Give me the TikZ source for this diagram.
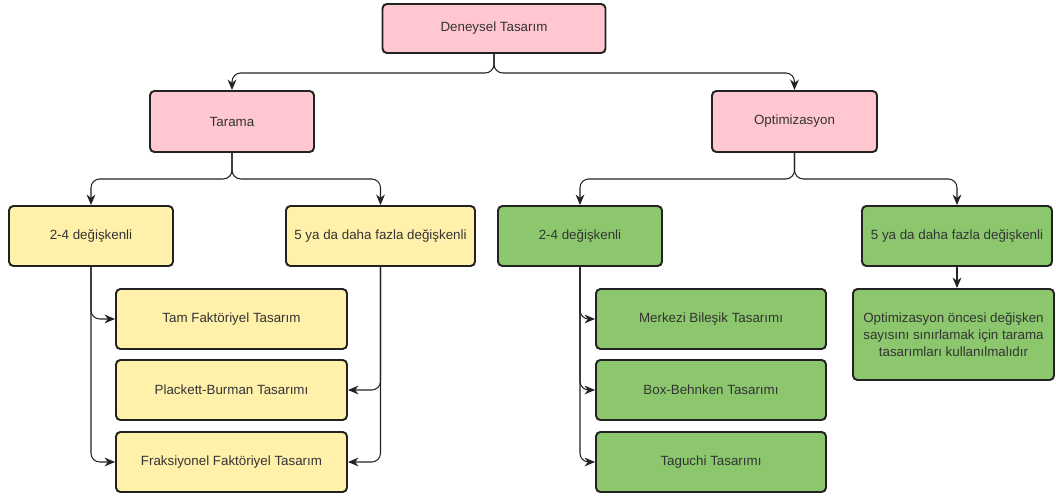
\documentclass[tikz,border=0pt]{standalone}
\usepackage{fontspec}
\setmainfont{Liberation Sans}
\usetikzlibrary{arrows.meta,calc}

\definecolor{pinkfill}{RGB}{255,199,208}
\definecolor{yellowfill}{RGB}{255,240,170}
\definecolor{greenfill}{RGB}{140,199,110}
\definecolor{edgegray}{RGB}{34,34,34}

\begin{document}
\begin{tikzpicture}[
        box/.style={draw=edgegray,line width=1.1pt,rounded corners=2.5pt,align=center,
            font=\fontsize{7.6}{9.6}\selectfont,text=black!80,inner sep=2pt},
        pinkbox/.style={box,fill=pinkfill},
        yellowbox/.style={box,fill=yellowfill},
        greenbox/.style={box,fill=greenfill},
        link/.style={draw=edgegray,line width=0.6pt,rounded corners=5pt,-{Stealth[length=6pt,width=5pt]}}
    ]
        \useasboundingbox (0,0) rectangle (21.12,-9.98);

        % top levels
        \node[pinkbox,minimum width=4.46cm,minimum height=0.98cm] (den) at (9.88,-0.57) {Deneysel Tasarım};
        \node[pinkbox,minimum width=3.28cm,minimum height=1.22cm] (tar) at (4.64,-2.43) {Tarama};
        \node[pinkbox,minimum width=3.3cm,minimum height=1.22cm] (opt) at (15.89,-2.43) {Optimizasyon};

        % variable counts
        \node[yellowbox,minimum width=3.28cm,minimum height=1.2cm] (y24) at (1.82,-4.72) {2-4 değişkenli};
        \node[yellowbox,minimum width=3.78cm,minimum height=1.2cm] (y5) at (7.61,-4.72) {5 ya da daha fazla değişkenli};
        \node[greenbox,minimum width=3.28cm,minimum height=1.2cm] (g24) at (11.6,-4.72) {2-4 değişkenli};
        \node[greenbox,minimum width=3.8cm,minimum height=1.2cm] (g5) at (19.14,-4.72) {5 ya da daha fazla değişkenli};

        % designs
        \foreach \n/\y/\t in {tam/-6.38/Tam Faktöriyel Tasarım, pb/-7.80/Plackett-Burman Tasarımı, fr/-9.24/Fraksiyonel Faktöriyel Tasarım}
            {
                \node[yellowbox,minimum width=4.62cm,minimum height=1.2cm] (\n) at (4.63,\y) {\t};
            }
        \foreach \n/\y/\t in {mer/-6.38/Merkezi Bileşik Tasarımı, bbd/-7.80/Box-Behnken Tasarımı, tag/-9.24/Taguchi Tasarımı}
            {
                \node[greenbox,minimum width=4.6cm,minimum height=1.2cm] (\n) at (14.22,\y) {\t};
            }
        \node[greenbox,minimum width=4.02cm,minimum height=1.82cm] (onc) at (19.07,-6.69)
            {Optimizasyon öncesi değişken\\sayısını sınırlamak için tarama\\tasarımları kullanılmalıdır};

        % branches
        \coordinate (denj) at ($(den.south)+(0,-0.38)$);
        \coordinate (tarj) at ($(tar.south)+(0,-0.52)$);
        \coordinate (optj) at ($(opt.south)+(0,-0.52)$);
        \foreach \a/\b/\c in {den/denj/tar, den/denj/opt, tar/tarj/y24, tar/tarj/y5, opt/optj/g24, opt/optj/g5}
            {
                \draw[link] (\a.south) -- (\b) -| (\c.north);
            }
        \foreach \a/\b in {y24/tam, y24/fr, g24/mer, g24/bbd, g24/tag}
            {
                \draw[link] (\a.south) |- (\b.west);
            }
        \foreach \a/\b in {y5/pb, y5/fr}
            {
                \draw[link] (\a.south) |- (\b.east);
            }
        \draw[link] (g5.south) -- (onc.north -| g5.south);
    \end{tikzpicture}
\end{document}
